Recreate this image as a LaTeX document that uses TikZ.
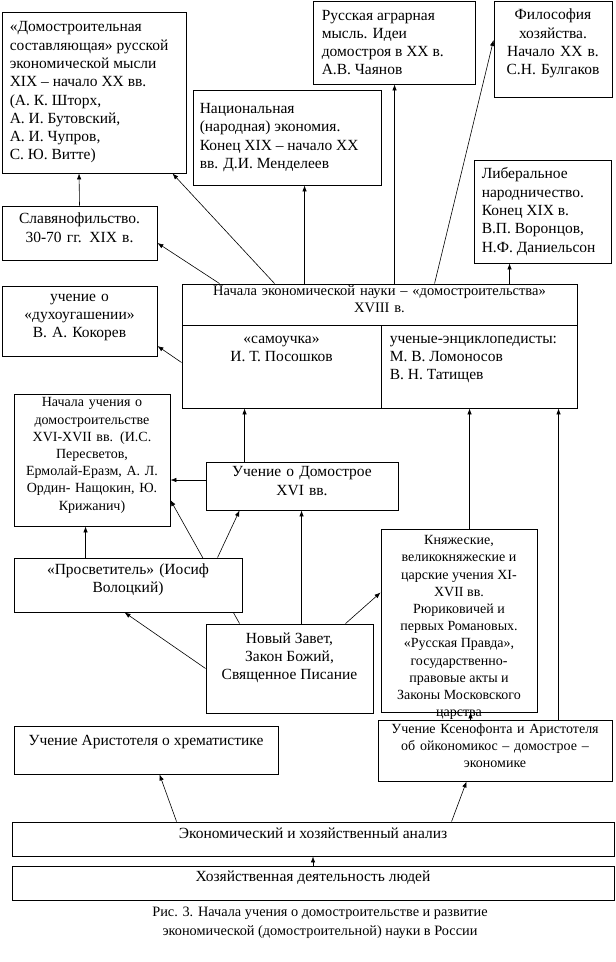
\documentclass[tikz,border=0pt]{standalone}
\usepackage{fontspec}
\setmainfont{Liberation Serif}
\usetikzlibrary{positioning,fit,arrows.meta,backgrounds}
\newcommand\bigsz{\fontsize{15.5}{18.3}\selectfont}
\newcommand\smallsz{\fontsize{14}{17.2}\selectfont}

\begin{document}
\begin{tikzpicture}[x=1pt,y=-1pt]
\tikzstyle{box}=[draw, line width=0.9pt, fill=white, inner sep=0pt, font=\bigsz]
\tikzstyle{txt}=[inner sep=0pt, font=\bigsz]
\tikzstyle{arr}=[-{Latex[length=6pt,width=4.5pt]}, line width=0.6pt]

\useasboundingbox (0,0) rectangle (616,962);

% top row
\node[box, fit={(2,12) (186,173)}] (dom) {};
\node[txt, align=left, right=8pt of dom.west] (domtxt) {«Домостроительная\\составляющая» русской\\экономической мысли\\XIX – начало XX вв.\\(А. К. Шторх,\\А. И. Бутовский,\\А. И. Чупров,\\С. Ю. Витте)};
\node[box, fit={(313,1) (475,84)}] (agr) {};
\node[txt, align=left, right=9pt of agr.west] (agrtxt) {Русская аграрная\\мысль. Идеи\\домостроя в XX в.\\А.В. Чаянов};
\node[box, fit={(494,1) (612,97)}, align=center] (fil) {Философия\\хозяйства.\\Начало XX в.\\С.Н. Булгаков};
\node[box, fit={(193,90) (381,185)}] (nat) {};
\node[txt, align=left, right=7pt of nat.west] (nattxt) {Национальная\\(народная) экономия.\\Конец XIX – начало XX\\вв. Д.И. Менделеев};
\node[box, fit={(2,206) (157,260)}, align=center] (slav) {Славянофильство.\\30-70 гг. XIX в.};
\node[box, fit={(474,160) (611,263)}] (lib) {};
\node[txt, align=left, right=8pt of lib.west] (libtxt) {Либеральное\\народничество.\\Конец XIX в.\\В.П. Воронцов,\\Н.Ф. Даниельсон};
\node[box, fit={(2,286) (157,356)}, align=center] (duk) {учение о\\«духоугашении»\\В. А. Кокорев};

% XVIII century
\node[box, fit={(182,284) (577,325)}, align=center, font=\fontsize{14.5}{17}\selectfont] (nt) {Начала экономической науки – «домостроительства»\\XVIII в.};
\node[box, fit={(182,325) (381,408)}] (nl) {};
\node[box, fit={(381,325) (577,408)}] (nr) {};
\node[txt, align=center, below=11pt of nl.north] (nltxt) {«самоучка»\\И. Т. Посошков};
\node[txt, align=left, below right=11pt and 9pt of nr.north west] (nrtxt) {ученые-энциклопедисты:\\М. В. Ломоносов\\В. Н. Татищев};

% XVI-XVII centuries
\node[box, fit={(14,394) (170,526)}, align=center, font=\smallsz] (nuch) {Начала учения о\\домостроительстве\\XVI-XVII вв. (И.С.\\Пересветов,\\Ермолай-Еразм, А. Л.\\Ордин- Нащокин, Ю.\\Крижанич)};
\node[box, fit={(206,462) (398,510)}, align=center] (domo) {Учение о Домострое\\XVI вв.};
\node[box, fit={(381,529) (537,712)}] (kn) {};
\node[txt, align=center, font=\smallsz] (kntxt) at ([yshift=-7pt]kn.center) {Княжеские,\\великокняжеские и\\царские учения XI-\\XVII вв.\\Рюриковичей и\\первых Романовых.\\«Русская Правда»,\\государственно-\\правовые акты и\\Законы Московского\\царства};
\node[box, fit={(14,558) (242,612)}, align=center] (pros) {«Просветитель» (Иосиф\\Волоцкий)};
\node[box, fit={(206,624) (373,713)}] (nz) {};
\node[txt, align=center, below=9pt of nz.north] (nztxt) {Новый Завет,\\Закон Божий,\\Священное Писание};

% antiquity and base
\node[box, fit={(14,726) (278,774)}] (arist) {};
\node[txt, below=10pt of arist.north] (aristtxt) {Учение Аристотеля о хрематистике};
\node[box, fit={(378,720) (612,781)}, align=center, font=\smallsz] (ksen) {Учение Ксенофонта и Аристотеля\\об ойкономикос – домострое –\\экономике};
\node[box, fit={(12,822) (614,856)}] (an) {Экономический и хозяйственный анализ};
\node[box, fit={(12,866) (614,900)}] (hoz) {Хозяйственная деятельность людей};

\node[txt, align=center, font=\fontsize{14.3}{19}\selectfont] (cap) at (320,923) {Рис. 3. Начала учения о домостроительстве и развитие\\экономической (домостроительной) науки в России};

\begin{scope}[on background layer]
\draw[arr] (slav.north) -- ([xshift=77.5pt]dom.south west);
\draw[arr] ([xshift=38pt]nt.north west) -- ([yshift=-10pt]slav.east);
\draw[arr] ([xshift=93pt]nt.north west) -- ([xshift=-14pt]dom.south east);
\draw[arr] ([yshift=4pt]nl.west) -- ([yshift=-25pt]duk.east);
\draw[arr] ([xshift=123pt]nt.north west) -- ([xshift=112pt]nat.south west);
\draw[arr] ([xshift=213pt]nt.north west) -- ([xshift=82pt]agr.south west);
\draw[arr] ([xshift=253pt]nt.north west) -- ([yshift=9pt]fil.west);
\draw[arr] ([xshift=328pt]nt.north west) -- ([xshift=36pt]lib.south west);
\draw[arr] ([xshift=39pt]domo.north west) -- ([xshift=63pt]nl.south west);
\draw[arr] ([xshift=89pt]kn.north west) -- ([xshift=89pt]nr.south west);
\draw[arr] ([xshift=181pt]ksen.north west) -- ([xshift=178pt]nr.south west);
\draw[arr] ([xshift=96pt]nz.north west) -- ([xshift=96pt]domo.south west);
\draw[arr] ([yshift=6pt]domo.west) -- ([yshift=-20pt]nuch.east);
\draw[arr] ([xshift=34pt]nz.north west) -- ([yshift=-40pt]nuch.east);
\draw[arr] ([xshift=204pt]pros.north west) -- ([xshift=34pt]domo.south west);
\draw[arr] ([xshift=72pt]pros.north west) -- ([xshift=72pt]nuch.south west);
\draw[arr] (nz.west) -- ([xshift=111pt]pros.south west);
\draw[arr] ([xshift=140pt]nz.north west) -- ([yshift=28pt]kn.west);
\draw[arr] ([xshift=93pt]ksen.north west) -- ([xshift=90pt]kn.south west);
\draw[arr] ([xshift=165pt]an.north west) -- ([xshift=146pt]arist.south west);
\draw[arr] ([xshift=440pt]an.north west) -- ([xshift=89pt]ksen.south west);
\draw[arr] (hoz.north) -- (an.south);
\end{scope}
\end{tikzpicture}
\end{document}
